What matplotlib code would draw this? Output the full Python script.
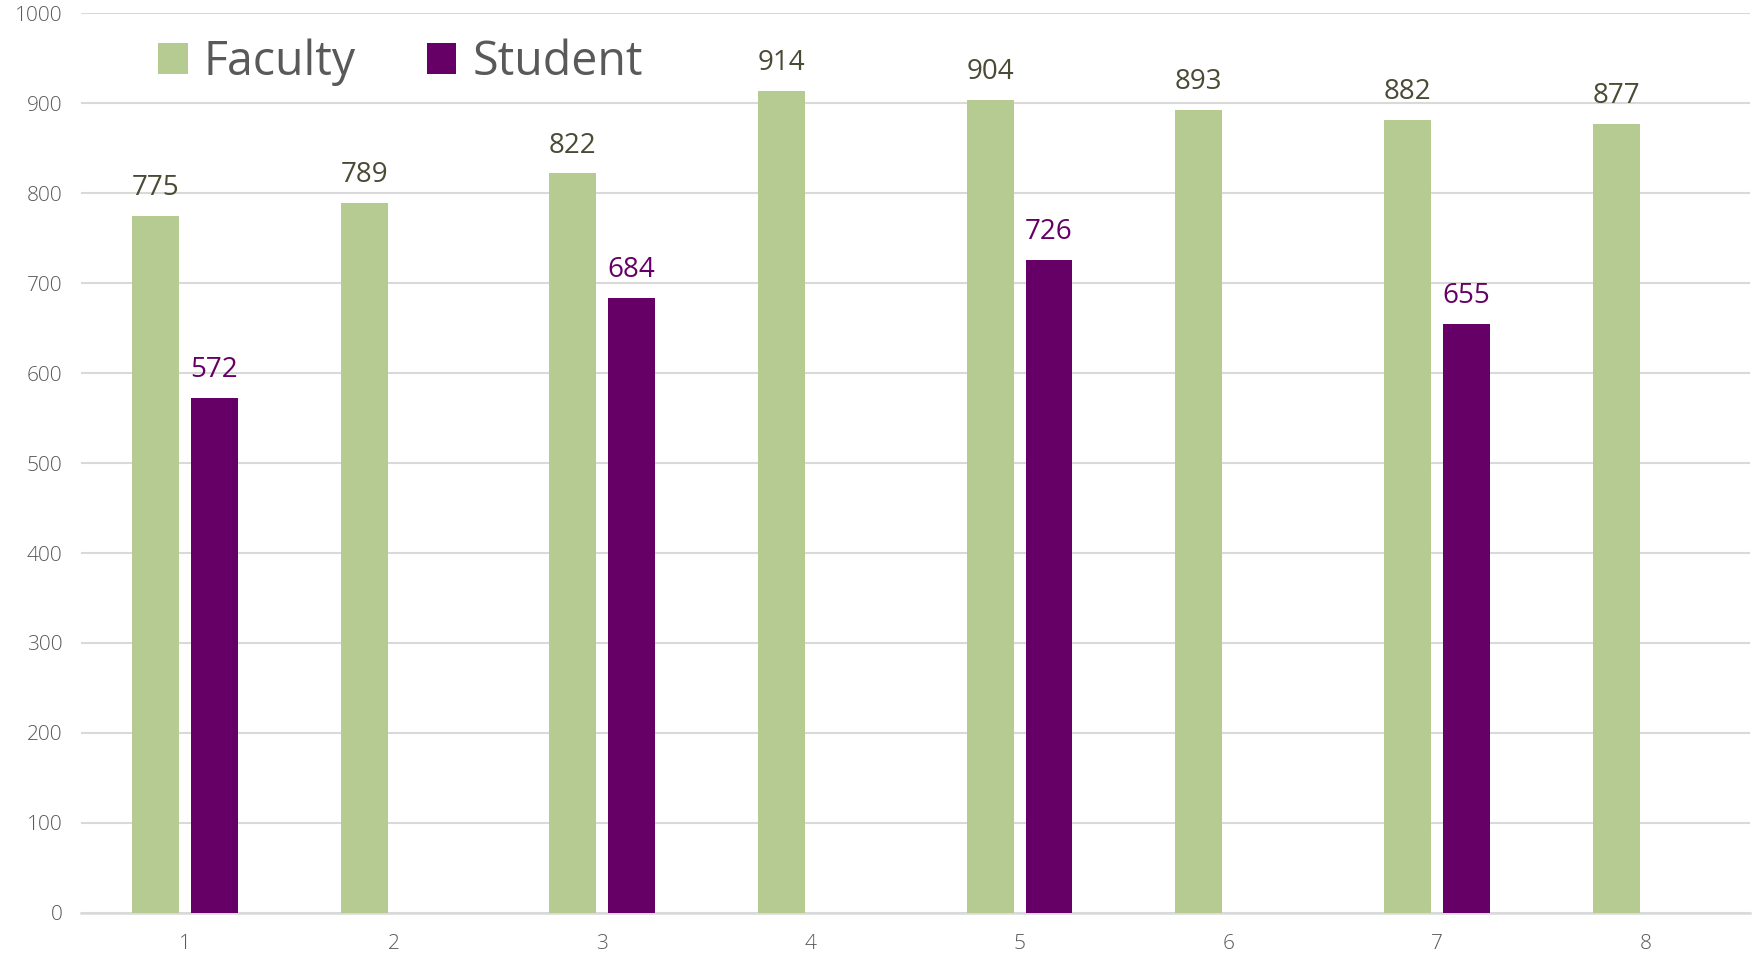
import numpy as np
import matplotlib
matplotlib.use("Agg")
import matplotlib.pyplot as plt

# Survey counts per item
categories = ["1", "2", "3", "4", "5", "6", "7", "8"]
faculty = [775, 789, 822, 914, 904, 893, 882, 877]
student = [572, np.nan, 684, np.nan, 726, np.nan, 655, np.nan]

faculty_color = "#B5CB92"
student_color = "#660066"
grid_color = "#D9D9D9"

plt.rcParams["font.family"] = ["Open Sans", "DejaVu Sans"]

fig = plt.figure(figsize=(17.54, 9.57), dpi=100)
ax = fig.add_axes([0.0459, 0.0462, 0.9518, 0.9398])

x = np.arange(len(categories))
width = 0.225
offset = 0.141

fac_bars = ax.bar(x - offset, faculty, width, color=faculty_color, label="Faculty", zorder=3)
stu_bars = ax.bar(x + offset, student, width, color=student_color, label="Student", zorder=3)

# value labels above each bar
for bar, val in zip(fac_bars, faculty):
    ax.annotate(f"{val:.0f}", (bar.get_x() + bar.get_width() / 2, val),
                xytext=(0, 10), textcoords="offset points",
                ha="center", va="bottom", fontsize=20, color="#4A4A35")
for bar, val in zip(stu_bars, student):
    if np.isnan(val):
        continue
    ax.annotate(f"{val:.0f}", (bar.get_x() + bar.get_width() / 2, val),
                xytext=(0, 10), textcoords="offset points",
                ha="center", va="bottom", fontsize=20, color=student_color)

ax.set_xlim(-0.5, len(categories) - 0.5)
ax.set_ylim(0, 1000)
ax.set_yticks(np.arange(0, 1001, 100))
ax.set_xticks(x)
ax.set_xticklabels(categories)

ax.yaxis.grid(True, color=grid_color, linewidth=1.5, zorder=0)
ax.set_axisbelow(True)
for side in ["top", "right", "left"]:
    ax.spines[side].set_visible(False)
ax.spines["bottom"].set_color(grid_color)
ax.spines["bottom"].set_linewidth(1.8)

ax.tick_params(axis="both", length=0, labelsize=15, labelcolor="#595959", pad=13)
ax.tick_params(axis="x", pad=15)
for lbl in ax.get_xticklabels() + ax.get_yticklabels():
    lbl.set_fontweight("light")

leg = ax.legend(loc="upper left", bbox_to_anchor=(0.0215, 1.019), ncol=2, frameon=False,
                fontsize=33.5, handlelength=0.63, handleheight=0.63, handletextpad=0.35,
                columnspacing=1.52)
for t in leg.get_texts():
    t.set_color("#595959")

fig.savefig("out.png", dpi=100)
